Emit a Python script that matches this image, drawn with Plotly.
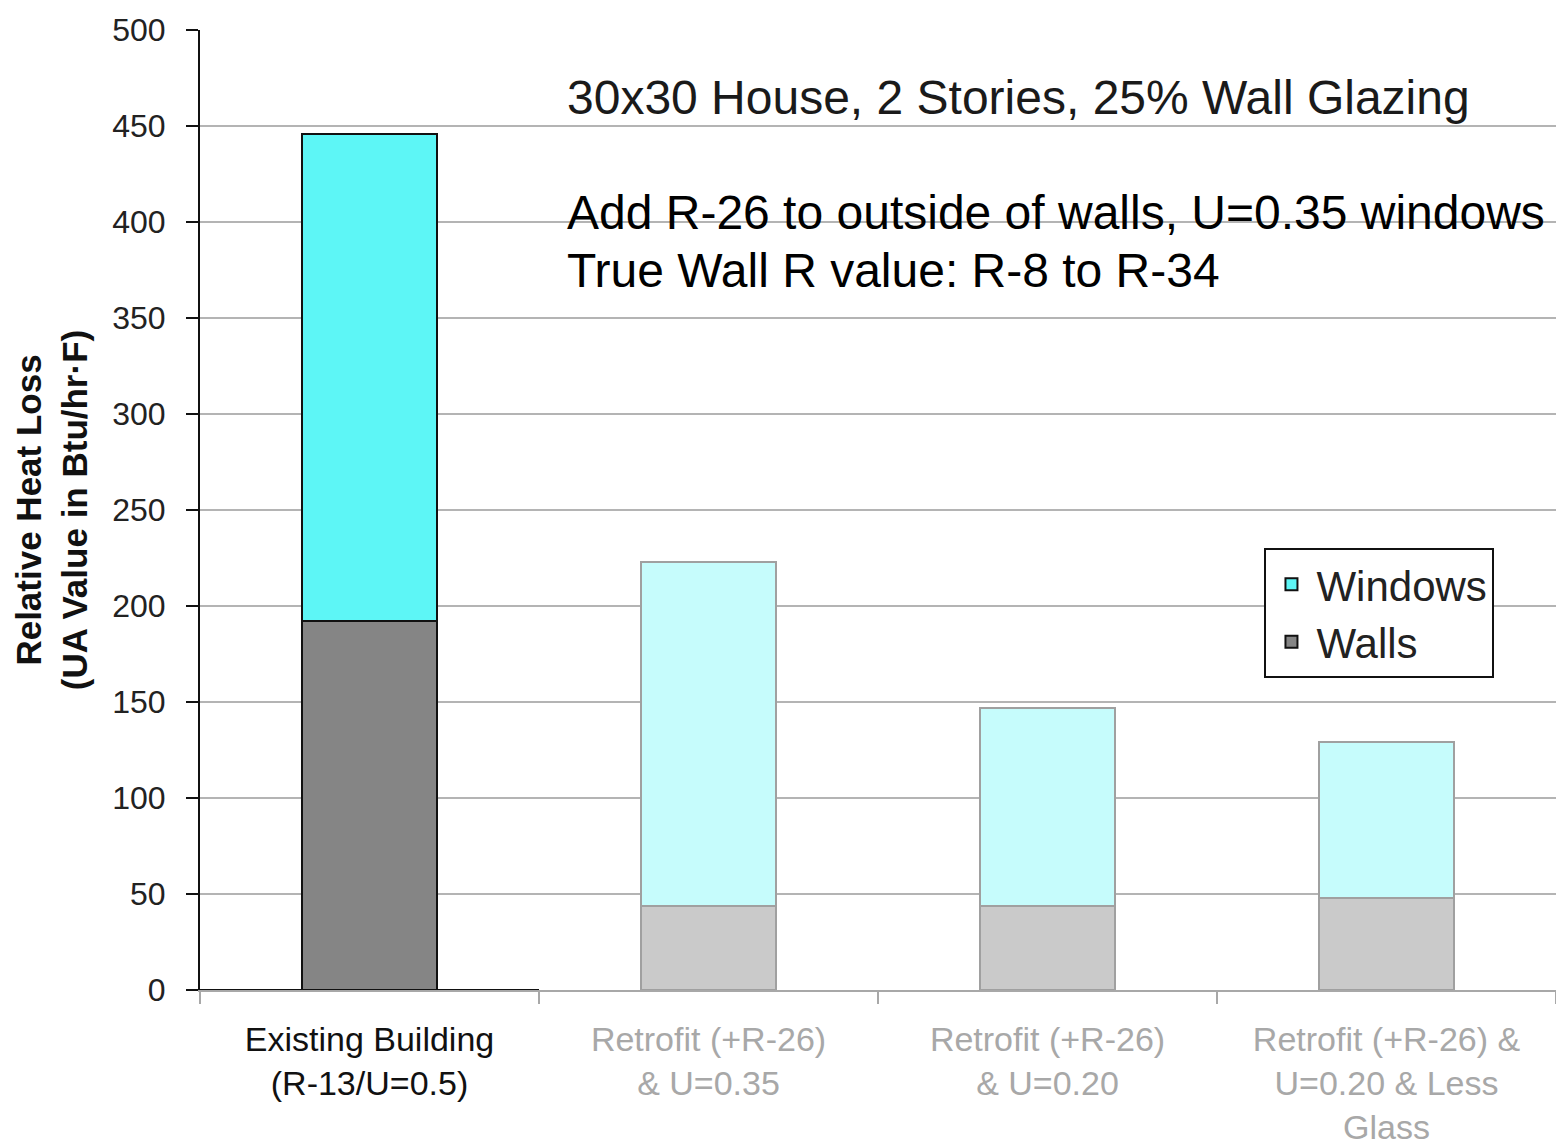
import plotly.graph_objects as go

categories = ["Existing Building<br>(R-13/U=0.5)",
              "Retrofit (+R-26)<br>& U=0.35",
              "Retrofit (+R-26)<br>& U=0.20",
              "Retrofit (+R-26) &<br>U=0.20 & Less<br>Glass"]
walls = [192, 44, 44, 48]
windows = [254, 179, 103, 81]
label_colors = ["#111111", "#A8A8A8", "#A8A8A8", "#A8A8A8"]
y_ticks = [0, 50, 100, 150, 200, 250, 300, 350, 400, 450, 500]

font = "Liberation Sans, Arial, sans-serif"

fig = go.Figure()
fig.add_trace(go.Bar(
    x=categories, y=walls, name="Walls", width=0.4,
    marker=dict(color=["#858585", "#CACACA", "#CACACA", "#CACACA"],
                line=dict(color=["#111111", "#A0A0A0", "#A0A0A0", "#A0A0A0"], width=2)),
))
fig.add_trace(go.Bar(
    x=categories, y=windows, name="Windows", width=0.4,
    marker=dict(color=["#5DF6F6", "#C6FCFC", "#C6FCFC", "#C6FCFC"],
                line=dict(color=["#111111", "#A0A0A0", "#A0A0A0", "#A0A0A0"], width=2)),
))

ticktext = [f'<span style="color:{c}">{t}</span>' for t, c in zip(categories, label_colors)]

fig.update_layout(
    width=1556, height=1146,
    margin=dict(l=200, r=0, t=30, b=156),
    barmode="stack",
    plot_bgcolor="white", paper_bgcolor="white",
    showlegend=True,
    legend=dict(x=0.785, y=0.46, xanchor="left", yanchor="top",
                traceorder="reversed", itemwidth=40,
                bgcolor="white", bordercolor="#111111", borderwidth=2,
                font=dict(family=font, size=42, color="#222222")),
    xaxis=dict(type="category", range=[-0.5, 3.5], tickmode="array",
               tickvals=categories, ticktext=ticktext,
               showgrid=False, showline=True, linecolor="#A8A8A8", linewidth=2,
               ticks="outside", ticklen=12, tickcolor="#A8A8A8", tickwidth=2,
               tickson="boundaries", ticklabelstandoff=18,
               tickfont=dict(family=font, size=34, color="#111111"),
               zeroline=False),
    yaxis=dict(range=[0, 500], tickmode="array", tickvals=y_ticks,
               showgrid=True, gridcolor="#B4B4B4", gridwidth=2,
               showline=True, linecolor="#111111", linewidth=2,
               ticks="outside", ticklen=12, tickcolor="#111111", tickwidth=2,
               ticklabelstandoff=14,
               tickfont=dict(family=font, size=32, color="#222222"),
               zeroline=False,
               title=dict(text="<b>Relative Heat Loss<br>(UA Value in Btu/hr·F)</b>",
                          font=dict(family=font, size=35, color="#111111"),
                          standoff=14)),
)

# black baseline under first category
fig.add_shape(type="line", xref="x", yref="y", x0=-0.5, x1=0.5, y0=0, y1=0,
              line=dict(color="#111111", width=2))

fig.add_annotation(xref="paper", yref="y", x=0.269, y=465, xanchor="left", yanchor="middle",
                   text="30x30 House, 2 Stories, 25% Wall Glazing", showarrow=False,
                   font=dict(family=font, size=48, color="#1A1A1A"))
fig.add_annotation(xref="paper", yref="y", x=0.269, y=405, xanchor="left", yanchor="middle",
                   text="Add R-26 to outside of walls, U=0.35 windows", showarrow=False,
                   font=dict(family=font, size=48, color="#000000"))
fig.add_annotation(xref="paper", yref="y", x=0.269, y=375, xanchor="left", yanchor="middle",
                   text="True Wall R value: R-8 to R-34", showarrow=False,
                   font=dict(family=font, size=48, color="#000000"))

fig.write_html("out.html")
